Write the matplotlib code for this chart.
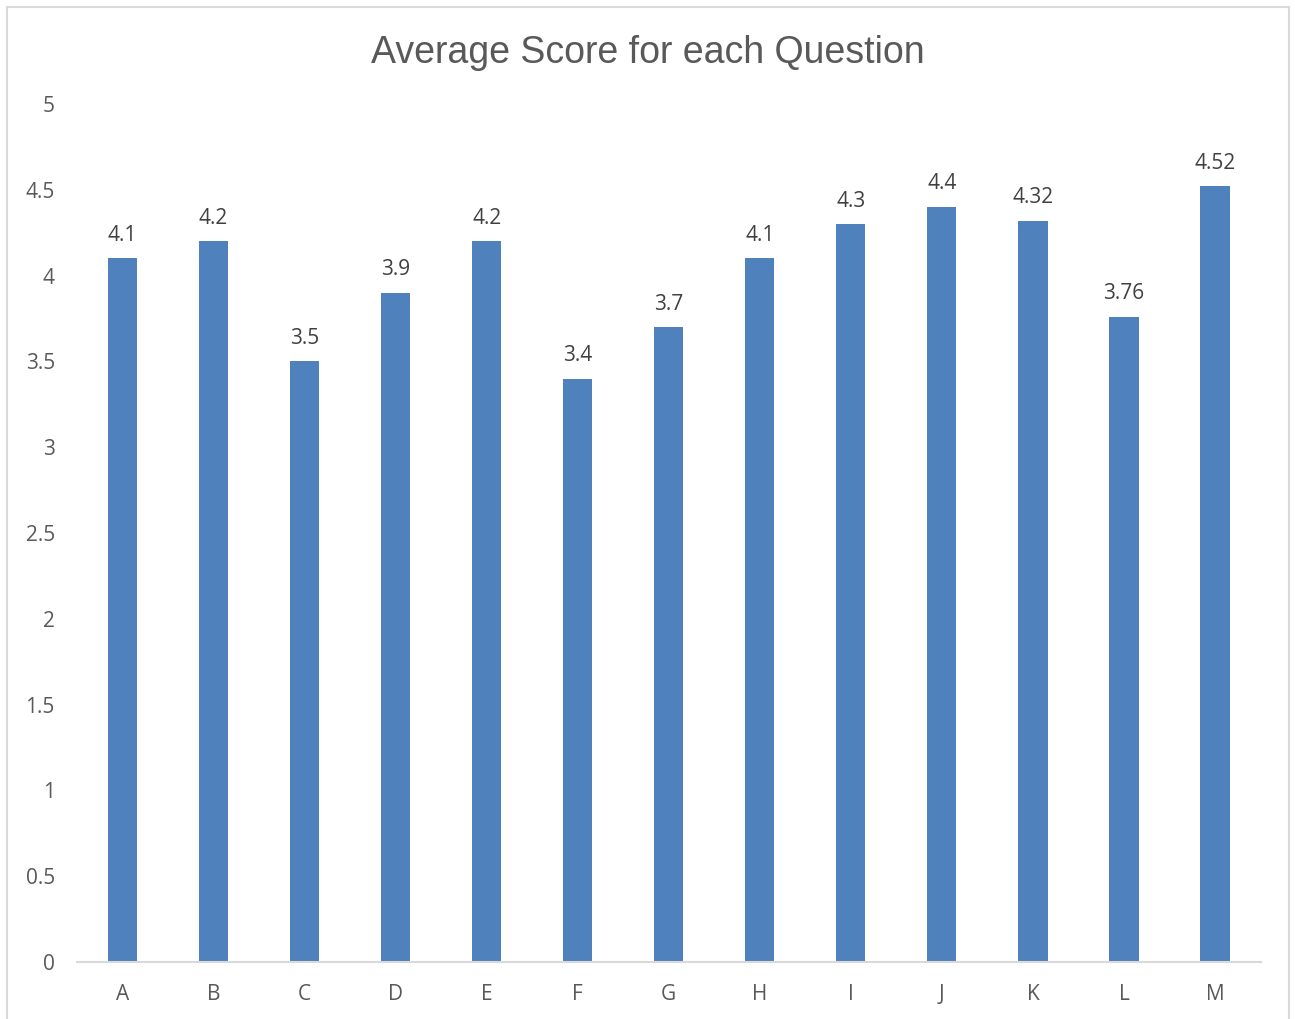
import matplotlib.pyplot as plt
from matplotlib.patches import Rectangle

questions = ["A", "B", "C", "D", "E", "F", "G", "H", "I", "J", "K", "L", "M"]
scores = [4.1, 4.2, 3.5, 3.9, 4.2, 3.4, 3.7, 4.1, 4.3, 4.4, 4.32, 3.76, 4.52]
score_labels = ["4.1", "4.2", "3.5", "3.9", "4.2", "3.4", "3.7", "4.1", "4.3", "4.4", "4.32", "3.76", "4.52"]
yticks = [0, 0.5, 1, 1.5, 2, 2.5, 3, 3.5, 4, 4.5, 5]
ytick_labels = ["0", "0.5", "1", "1.5", "2", "2.5", "3", "3.5", "4", "4.5", "5"]

txt = "#595959"
grid = "#D9D9D9"

fig = plt.figure(figsize=(12.95, 10.19), dpi=100)
# outer chart border
fig.patches.append(Rectangle((7 / 1295, -0.01), (1289 - 7) / 1295, (1019 - 7) / 1019 + 0.01,
                             transform=fig.transFigure, fill=False, edgecolor=grid, lw=1.5))

ax = fig.add_axes([0.0595, 0.0559, 0.9139, 0.842])
x = range(len(questions))
bars = ax.bar(x, scores, width=0.32, color="#4F81BD", zorder=2)

for i, (v, lab) in enumerate(zip(scores, score_labels)):
    ax.annotate(lab, (i, v), xytext=(0, 9), textcoords="offset points",
                ha="center", va="bottom", fontsize=15, color="#404040", family="Open Sans")

ax.set_xlim(-0.5, len(questions) - 0.5)
ax.set_ylim(0, 5)
ax.set_xticks(list(x))
ax.set_xticklabels(questions, fontsize=15, color=txt, family="Open Sans")
ax.set_yticks(yticks)
ax.set_yticklabels(ytick_labels, fontsize=15, color=txt, family="Open Sans")
ax.tick_params(axis="both", length=0)
ax.tick_params(axis="x", pad=16)
ax.tick_params(axis="y", pad=16)
for s in ["top", "right", "left"]:
    ax.spines[s].set_visible(False)
ax.spines["bottom"].set_color(grid)
ax.spines["bottom"].set_linewidth(1.5)

fig.text(648 / 1295, 1 - 53 / 1019, "Average Score for each Question", ha="center", va="center",
         fontsize=27, color=txt, family="Liberation Sans")

fig.savefig("out.png", dpi=100)
